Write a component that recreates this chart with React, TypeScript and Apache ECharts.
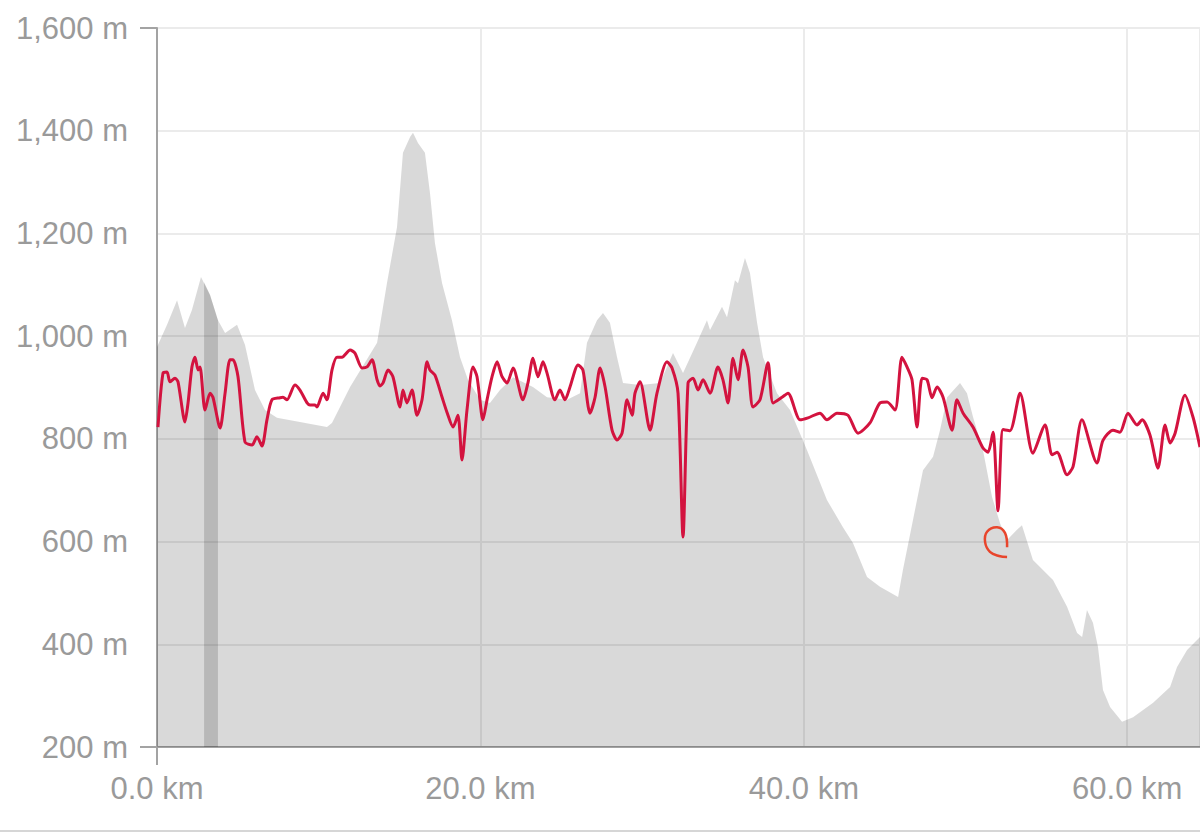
import React, { useEffect, useRef } from 'react'
import * as echarts from 'echarts'

// elevation profile (km, m)
const elevKm = [
  0, 0.62, 1.24, 1.73, 2.16, 2.72, 3.28, 3.77, 4.21, 4.95, 5.44, 6.06, 6.68, 7.42, 8.84, 10.51, 10.82,
  11.94, 13.61, 14.22, 14.84, 15.21, 15.65, 15.83, 16.14, 16.57, 16.88, 17.19, 17.63, 18.24, 18.74,
  19.23, 19.98, 20.59, 21.21, 22.02, 23.25, 24.12, 25.36, 26.16, 26.59, 27.21, 27.58, 28.01, 28.45,
  28.82, 29.87, 31.11, 31.91, 32.53, 33.39, 34.01, 34.2, 34.94, 35.25, 35.74, 35.93, 36.36, 36.67,
  37.11, 37.48, 38.34, 39.15, 40.2, 41.43, 42.42, 43.04, 43.91, 44.71, 45.83, 46.13, 46.75, 47.37,
  47.99, 48.42, 48.86, 49.66, 50.09, 50.46, 51.08, 51.64, 52.13, 52.57, 53.18, 53.49, 54.17, 55.41,
  56.28, 56.9, 57.21, 57.51, 57.88, 58.19, 58.5, 58.94, 59.68, 60.36, 61.6, 62.65, 63.08, 63.7, 64.5
]
const elevM = [
  979, 1022, 1070, 1016, 1051, 1115, 1080, 1031, 1006, 1022, 983, 895, 856, 841, 833, 823, 831,
  901, 987, 1103, 1212, 1357, 1388, 1396, 1376, 1357, 1279, 1181, 1103, 1031, 959,
  915, 876, 870, 895, 920, 901, 881, 876, 889, 987, 1031, 1045, 1026, 959,
  909, 905, 909, 967, 928, 987, 1031, 1012, 1057, 1037, 1109, 1103, 1152, 1123,
  1026, 959, 889, 856, 778, 681, 628, 597, 531, 512, 492, 545, 642, 739,
  765, 817, 881, 909, 889, 843, 778, 687, 636, 603, 623, 632, 564, 525,
  473, 422, 414, 467, 442, 395, 311, 278, 249, 258, 286, 317, 356, 389, 414
]

// highlighted segment of the profile
const bandKm = [2.91, 3.28, 3.77]
const bandM = [1105, 1080, 1031]

// red trace (km, m)
const lineKm = [
  0.06, 0.37, 0.62, 0.8, 1.11, 1.3, 1.73, 1.92, 2.16, 2.35, 2.54, 2.66, 2.97, 3.28, 3.46, 3.9, 4.21,
  4.51, 4.7, 5.01, 5.44, 5.88, 6.18, 6.49, 6.8, 7.11, 7.61, 7.79, 8.04, 8.53, 8.84, 9.28, 9.46, 9.77,
  9.89, 10.27, 10.51, 10.82, 11.13, 11.44, 11.94, 12.24, 12.68, 12.99, 13.3, 13.61, 13.79, 13.98,
  14.29, 14.59, 15.03, 15.21, 15.46, 15.77, 16.08, 16.39, 16.7, 16.88, 17.19, 17.63, 17.93, 18.31,
  18.61, 18.86, 19.17, 19.54, 19.79, 20.16, 20.41, 20.72, 21.03, 21.34, 21.65, 22.02, 22.63, 22.94,
  23.25, 23.56, 23.87, 24.12, 24.61, 24.92, 25.23, 25.54, 26.04, 26.34, 26.78, 27.09, 27.4, 27.71,
  28.14, 28.45, 28.76, 29.07, 29.38, 29.56, 29.87, 30.49, 30.92, 31.54, 31.85, 32.22, 32.53, 32.84,
  33.15, 33.46, 33.77, 34.2, 34.69, 35.0, 35.31, 35.62, 35.93, 36.24, 36.55, 36.86, 37.29, 37.79,
  38.1, 38.65, 39.02, 39.77, 40.26, 41.0, 41.43, 42.05, 42.73, 43.35, 44.09, 44.71, 45.15, 45.64,
  46.07, 46.38, 46.69, 47.0, 47.31, 47.62, 47.93, 48.24, 48.61, 49.17, 49.47, 49.85, 50.46, 51.08,
  51.39, 51.7, 52.01, 52.32, 52.75, 53.37, 54.17, 54.92, 55.35, 55.66, 56.28, 56.65, 57.2, 58.13,
  58.5, 59.12, 59.55, 60.05, 60.61, 60.92, 61.41, 61.9, 62.34, 62.65, 62.96, 63.57, 64.07, 64.5
]
const lineM = [
  823, 928, 930, 911, 918, 911, 833, 870, 940, 959, 934, 940, 856, 889, 881, 821, 889,
  954, 954, 921, 794, 788, 804, 786, 837, 876, 880, 881, 876, 905, 895, 870, 866, 866,
  862, 889, 876, 934, 959, 959, 973, 967, 938, 940, 954, 915, 903, 909,
  934, 921, 862, 895, 870, 895, 846, 876, 950, 934, 924, 881, 852, 823,
  846, 759, 856, 940, 921, 837, 876, 921, 950, 921, 909, 938, 876, 909,
  957, 921, 950, 928, 876, 895, 876, 901, 944, 934, 850, 881, 938, 901,
  817, 798, 811, 876, 846, 889, 911, 817, 889, 950, 938, 889, 609, 909,
  918, 895, 915, 889, 940, 915, 870, 957, 915, 973, 940, 862, 876, 948,
  870, 881, 889, 837, 841, 850, 837, 850, 846, 811, 831, 870, 872, 856,
  959, 940, 915, 823, 918, 915, 880, 901, 881, 817, 876, 850, 823, 782,
  774, 813, 660, 818, 816, 889, 772, 827, 769, 774, 730, 746, 837, 753,
  797, 817, 813, 850, 827, 837, 807, 743, 827, 792, 811, 885, 842, 784
]

// small hand-drawn loop annotation (km, m)
const loopKm = [52.57, 52.44, 51.95, 51.33, 51.21, 51.51, 52.07, 52.57]
const loopM = [589, 617, 628, 619, 599, 580, 572, 570]

const yMin = 200
const yMax = 1600
const yStep = 200
const xMin = 0
const xMax = 64.5
const xStep = 20

const zip = (a: number[], b: number[]) => a.map((v, i) => [v, b[i]])

const labelFont = {
  color: '#9a9a9a',
  fontSize: 31,
  fontFamily: '"Liberation Sans", Arial, sans-serif'
}

const App: React.FC = () => {
  const chartRef = useRef<HTMLDivElement>(null)

  useEffect(() => {
    if (!chartRef.current) return
    const chart = echarts.init(chartRef.current, null, { renderer: 'svg' })

    chart.setOption({
      animation: false,
      backgroundColor: '#ffffff',
      grid: { left: 157, right: 0, top: 28, bottom: 87, containLabel: false },
      xAxis: {
        type: 'value',
        min: xMin,
        max: xMax,
        interval: xStep,
        axisLine: { show: true, lineStyle: { color: '#a3a3a3', width: 2 } },
        axisTick: { show: false },
        splitLine: { show: true, lineStyle: { color: '#ebebeb', width: 2 } },
        axisLabel: {
          ...labelFont,
          margin: 26,
          showMaxLabel: false,
          formatter: (v: number) => v.toFixed(1) + ' km'
        }
      },
      yAxis: {
        type: 'value',
        min: yMin,
        max: yMax,
        interval: yStep,
        axisLine: { show: true, lineStyle: { color: '#a3a3a3', width: 2 } },
        axisTick: { show: false },
        splitLine: { show: true, lineStyle: { color: '#ebebeb', width: 2 } },
        axisLabel: {
          ...labelFont,
          margin: 29,
          formatter: (v: number) => v.toLocaleString('en-US') + ' m'
        }
      },
      series: [
        {
          type: 'line',
          data: zip(elevKm, elevM),
          symbol: 'none',
          lineStyle: { width: 0 },
          areaStyle: { color: 'rgba(0,0,0,0.15)', opacity: 1 },
          z: 1
        },
        {
          type: 'line',
          data: zip(bandKm, bandM),
          symbol: 'none',
          lineStyle: { width: 0 },
          areaStyle: { color: 'rgba(0,0,0,0.15)', opacity: 1 },
          z: 2
        },
        {
          type: 'line',
          data: zip(lineKm, lineM),
          symbol: 'none',
          smooth: 0.25,
          lineStyle: { color: '#d3133f', width: 3, join: 'round' },
          z: 3
        }
      ]
    })

    // end ticks of the axes and the loop mark, placed through the axes
    const px = (km: number, m: number) => chart.convertToPixel({ gridIndex: 0 }, [km, m]) as number[]
    const [x0, yBot] = px(xMin, yMin)
    const [, yTop] = px(xMin, yMax)
    const axisStroke = { stroke: '#a3a3a3', lineWidth: 2 }

    chart.setOption({
      graphic: [
        { type: 'line', shape: { x1: x0 - 17, y1: yTop, x2: x0, y2: yTop }, style: axisStroke },
        { type: 'line', shape: { x1: x0 - 17, y1: yBot, x2: x0, y2: yBot }, style: axisStroke },
        { type: 'line', shape: { x1: x0, y1: yBot, x2: x0, y2: yBot + 18 }, style: axisStroke },
        {
          type: 'polyline',
          shape: { points: loopKm.map((k, i) => px(k, loopM[i])), smooth: 0.4 },
          style: { stroke: '#e8452c', lineWidth: 2.5, fill: 'none' },
          z: 10
        },
        { type: 'line', shape: { x1: 0, y1: 831, x2: 1200, y2: 831 }, style: { stroke: '#d6d6d6', lineWidth: 2 } }
      ]
    })

    const handleResize = () => chart.resize()
    window.addEventListener('resize', handleResize)
    return () => {
      window.removeEventListener('resize', handleResize)
      chart.dispose()
    }
  }, [])

  return (
    <div
      ref={chartRef}
      style={{ position: 'absolute', left: 0, top: 0, width: '1200px', height: '834px' }}
    />
  )
}

export default App
